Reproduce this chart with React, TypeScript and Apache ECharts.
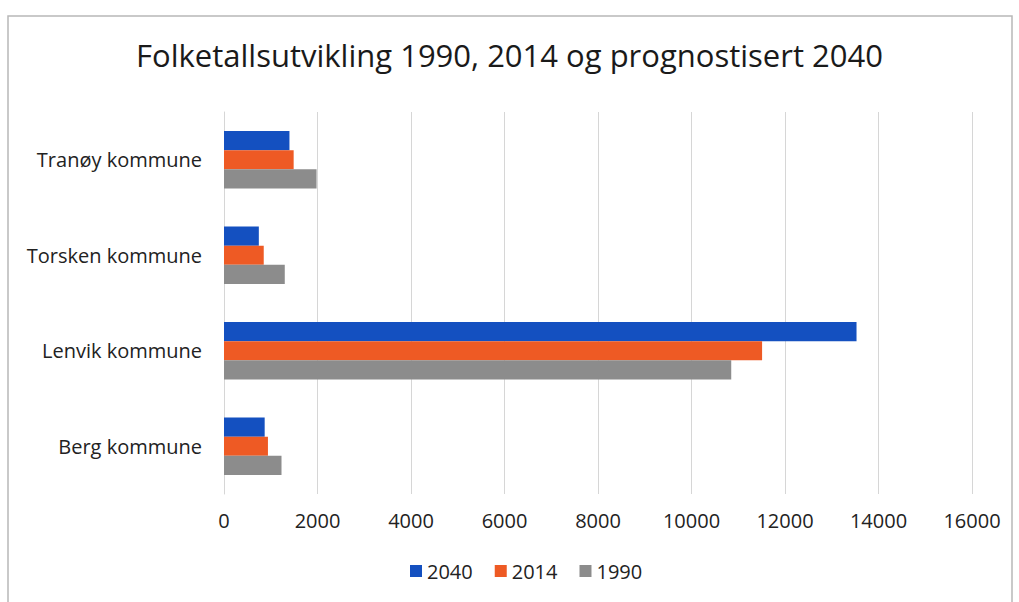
import React, { useEffect, useRef } from "react";
import * as echarts from "echarts";

const categories = ["Berg kommune", "Lenvik kommune", "Torsken kommune", "Tranøy kommune"];
const values2040 = [870, 13530, 745, 1400];
const values2014 = [940, 11510, 850, 1490];
const values1990 = [1230, 10850, 1300, 1980];
const xTicks = [0, 2000, 4000, 6000, 8000, 10000, 12000, 14000, 16000];
const title = "Folketallsutvikling 1990, 2014 og prognostisert 2040";

export default function App() {
  const ref = useRef<HTMLDivElement>(null);
  useEffect(() => {
    if (!ref.current) return;
    const chart = echarts.init(ref.current, null, { renderer: "svg" });
    const font = "Open Sans, Liberation Sans, sans-serif";
    chart.setOption({
      animation: false,
      backgroundColor: "#ffffff",
      textStyle: { fontFamily: font },
      title: {
        text: title,
        left: "center",
        top: 34,
        textStyle: { fontSize: 31, fontWeight: "normal", color: "#1a1a1a", fontFamily: font },
      },
      legend: {
        data: ["2040", "2014", "1990"],
        bottom: 16,
        left: 405,
        itemWidth: 12,
        itemHeight: 12,
        itemGap: 22,
        icon: "rect",
        textStyle: { fontSize: 20, color: "#222", fontFamily: font },
      },
      grid: { left: 224, right: 47, top: 112, bottom: 108, containLabel: false },
      xAxis: {
        type: "value",
        min: xTicks[0],
        max: xTicks[xTicks.length - 1],
        interval: 2000,
        axisLine: { show: false },
        axisTick: { show: false },
        splitLine: { show: true, lineStyle: { color: "#d6d6d6", width: 1 } },
        axisLabel: {
          fontSize: 20,
          color: "#222",
          margin: 16,
          fontFamily: font,
          formatter: (v: number) => String(v),
        },
      },
      yAxis: {
        type: "category",
        data: categories,
        axisLine: { show: true, lineStyle: { color: "#d6d6d6" } },
        axisTick: { show: false },
        axisLabel: { fontSize: 20, color: "#222", margin: 22, fontFamily: font },
      },
      series: [
        {
          name: "2040",
          type: "bar",
          data: values2040,
          itemStyle: { color: "#1450c0" },
          barGap: "0%",
          barCategoryGap: "40%",
        },
        {
          name: "2014",
          type: "bar",
          data: values2014,
          itemStyle: { color: "#ee5a24" },
          barGap: "0%",
          barCategoryGap: "40%",
        },
        {
          name: "1990",
          type: "bar",
          data: values1990,
          itemStyle: { color: "#8c8c8c" },
          barGap: "0%",
          barCategoryGap: "40%",
        },
      ],
      graphic: [
        {
          type: "rect",
          shape: { x: 8, y: 16, width: 1004, height: 600 },
          style: { fill: "none", stroke: "#b8b8b8", lineWidth: 1.5 },
          silent: true,
        },
      ],
    });
    return () => chart.dispose();
  }, []);
  return (
    <div
      ref={ref}
      style={{ position: "fixed", left: 0, top: 0, width: 1019, height: 602 }}
    />
  );
}
